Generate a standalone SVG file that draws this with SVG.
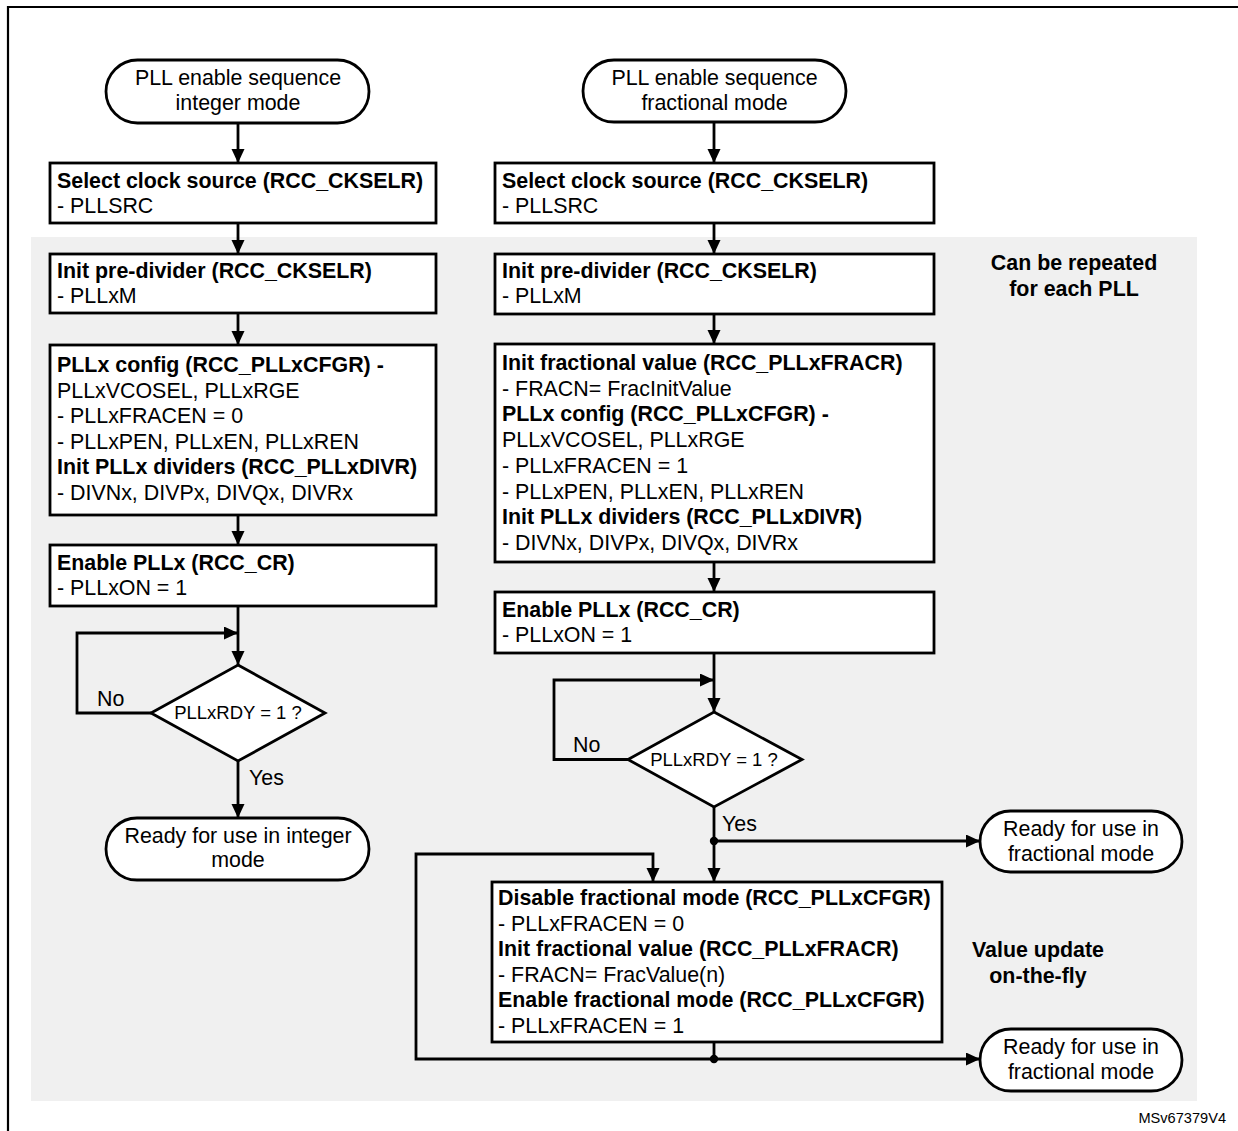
<svg xmlns="http://www.w3.org/2000/svg" width="1238" height="1131" viewBox="0 0 1238 1131">
<defs>
<marker id="ah" markerUnits="userSpaceOnUse" markerWidth="15" markerHeight="14" refX="14" refY="6.5" orient="auto">
<path d="M0,0 L14,6.5 L0,13 z" fill="#000"/>
</marker>
<style>
text{font-family:"Liberation Sans",Arial,sans-serif;font-size:21.4px;fill:#000}
.b{font-weight:bold}
.c{text-anchor:middle}
.box{fill:#fff;stroke:#000;stroke-width:2.8}
.ln{fill:none;stroke:#000;stroke-width:2.8}
.dm{font-size:18.5px}
</style>
</defs>
<rect x="0" y="0" width="1238" height="1131" fill="#fff"/>
<path d="M8,1131 V7 H1238" fill="none" stroke="#000" stroke-width="2.2"/>
<rect x="31" y="237" width="1166" height="864" fill="#f0f0f0"/>

<g id="connectors">
<line class="ln" x1="238" y1="123" x2="238" y2="163" marker-end="url(#ah)"/>
<line class="ln" x1="238" y1="223" x2="238" y2="254" marker-end="url(#ah)"/>
<line class="ln" x1="238" y1="313" x2="238" y2="345" marker-end="url(#ah)"/>
<line class="ln" x1="238" y1="515" x2="238" y2="545" marker-end="url(#ah)"/>
<line class="ln" x1="238" y1="606" x2="238" y2="665" marker-end="url(#ah)"/>
<polyline class="ln" points="151,713 77,713 77,633 238,633" marker-end="url(#ah)"/>
<line class="ln" x1="238" y1="761" x2="238" y2="818" marker-end="url(#ah)"/>

<line class="ln" x1="714" y1="122" x2="714" y2="163" marker-end="url(#ah)"/>
<line class="ln" x1="714" y1="223" x2="714" y2="254" marker-end="url(#ah)"/>
<line class="ln" x1="714" y1="314" x2="714" y2="344" marker-end="url(#ah)"/>
<line class="ln" x1="714" y1="562" x2="714" y2="592" marker-end="url(#ah)"/>
<line class="ln" x1="714" y1="653" x2="714" y2="712" marker-end="url(#ah)"/>
<polyline class="ln" points="628,759.5 554,759.5 554,680 714,680" marker-end="url(#ah)"/>
<line class="ln" x1="714" y1="807" x2="714" y2="882" marker-end="url(#ah)"/>
<line class="ln" x1="714" y1="841" x2="980" y2="841" marker-end="url(#ah)"/>
<polyline class="ln" points="714,1059 416,1059 416,854 653,854 653,882" marker-end="url(#ah)"/>
<line class="ln" x1="714" y1="1042" x2="714" y2="1059"/>
<line class="ln" x1="714" y1="1059" x2="980" y2="1059" marker-end="url(#ah)"/>
<circle cx="714" cy="841" r="4.2" fill="#000"/>
<circle cx="714" cy="1059" r="4.2" fill="#000"/>
<text x="97" y="706">No</text>
<text x="249" y="785">Yes</text>
<text x="573" y="752">No</text>
<text x="722" y="831">Yes</text>
</g>

<g id="start-integer">
<rect class="box" x="106" y="60" width="263" height="63" rx="31.5"/>
<text class="c" x="238" y="85">PLL enable sequence</text>
<text class="c" x="238" y="110">integer mode</text>
</g>
<g id="select-src-int">
<rect class="box" x="50" y="163" width="386" height="60"/>
<text class="b" x="57" y="188">Select clock source (RCC_CKSELR)</text>
<text x="57" y="213">- PLLSRC</text>
</g>
<g id="prediv-int">
<rect class="box" x="50" y="254" width="386" height="59"/>
<text class="b" x="57" y="278">Init pre-divider (RCC_CKSELR)</text>
<text x="57" y="303">- PLLxM</text>
</g>
<g id="config-int">
<rect class="box" x="50" y="345" width="386" height="170"/>
<text class="b" x="57" y="372">PLLx config (RCC_PLLxCFGR) -</text>
<text x="57" y="397.5">PLLxVCOSEL, PLLxRGE</text>
<text x="57" y="423">- PLLxFRACEN = 0</text>
<text x="57" y="448.5">- PLLxPEN, PLLxEN, PLLxREN</text>
<text class="b" x="57" y="474">Init PLLx dividers (RCC_PLLxDIVR)</text>
<text x="57" y="499.5">- DIVNx, DIVPx, DIVQx, DIVRx</text>
</g>
<g id="enable-int">
<rect class="box" x="50" y="545" width="386" height="61"/>
<text class="b" x="57" y="570">Enable PLLx (RCC_CR)</text>
<text x="57" y="595">- PLLxON = 1</text>
</g>
<g id="ready-check-int">
<polygon class="box" points="238,665 325,713 238,761 151,713"/>
<text class="c dm" x="238" y="719">PLLxRDY = 1 ?</text>
</g>
<g id="ready-int">
<rect class="box" x="106" y="818" width="263" height="62" rx="31"/>
<text class="c" x="238" y="843">Ready for use in integer</text>
<text class="c" x="238" y="867">mode</text>
</g>

<g id="start-frac">
<rect class="box" x="583" y="60" width="263" height="62" rx="31"/>
<text class="c" x="714.5" y="85">PLL enable sequence</text>
<text class="c" x="714.5" y="110">fractional mode</text>
</g>
<g id="select-src-frac">
<rect class="box" x="495" y="163" width="439" height="60"/>
<text class="b" x="502" y="188">Select clock source (RCC_CKSELR)</text>
<text x="502" y="213">- PLLSRC</text>
</g>
<g id="prediv-frac">
<rect class="box" x="495" y="254" width="439" height="60"/>
<text class="b" x="502" y="278">Init pre-divider (RCC_CKSELR)</text>
<text x="502" y="303">- PLLxM</text>
</g>
<g id="config-frac">
<rect class="box" x="495" y="344" width="439" height="218"/>
<text class="b" x="502" y="370">Init fractional value (RCC_PLLxFRACR)</text>
<text x="502" y="395.7">- FRACN= FracInitValue</text>
<text class="b" x="502" y="421.4">PLLx config (RCC_PLLxCFGR) -</text>
<text x="502" y="447.1">PLLxVCOSEL, PLLxRGE</text>
<text x="502" y="472.8">- PLLxFRACEN = 1</text>
<text x="502" y="498.5">- PLLxPEN, PLLxEN, PLLxREN</text>
<text class="b" x="502" y="524.2">Init PLLx dividers (RCC_PLLxDIVR)</text>
<text x="502" y="549.9">- DIVNx, DIVPx, DIVQx, DIVRx</text>
</g>
<g id="enable-frac">
<rect class="box" x="495" y="592" width="439" height="61"/>
<text class="b" x="502" y="617">Enable PLLx (RCC_CR)</text>
<text x="502" y="642">- PLLxON = 1</text>
</g>
<g id="ready-check-frac">
<polygon class="box" points="714,712 802,759.5 714,807 628,759.5"/>
<text class="c dm" x="714" y="765.5">PLLxRDY = 1 ?</text>
</g>
<g id="ready-frac-1">
<rect class="box" x="980" y="811" width="202" height="61" rx="30.5"/>
<text class="c" x="1081" y="836">Ready for use in</text>
<text class="c" x="1081" y="861">fractional mode</text>
</g>
<g id="update-frac">
<rect class="box" x="492" y="882" width="450" height="160"/>
<text class="b" x="498" y="905">Disable fractional mode (RCC_PLLxCFGR)</text>
<text x="498" y="930.5">- PLLxFRACEN = 0</text>
<text class="b" x="498" y="956">Init fractional value (RCC_PLLxFRACR)</text>
<text x="498" y="981.5">- FRACN= FracValue(n)</text>
<text class="b" x="498" y="1007">Enable fractional mode (RCC_PLLxCFGR)</text>
<text x="498" y="1032.5">- PLLxFRACEN = 1</text>
</g>
<g id="ready-frac-2">
<rect class="box" x="980" y="1029" width="202" height="62" rx="31"/>
<text class="c" x="1081" y="1054">Ready for use in</text>
<text class="c" x="1081" y="1079">fractional mode</text>
</g>

<g id="notes">
<text class="b c" x="1074" y="270">Can be repeated</text>
<text class="b c" x="1074" y="296">for each PLL</text>
<text class="b c" x="1038" y="957">Value update</text>
<text class="b c" x="1038" y="983">on-the-fly</text>
<text x="1226" y="1123" style="font-size:14.6px;text-anchor:end">MSv67379V4</text>
</g>
</svg>
